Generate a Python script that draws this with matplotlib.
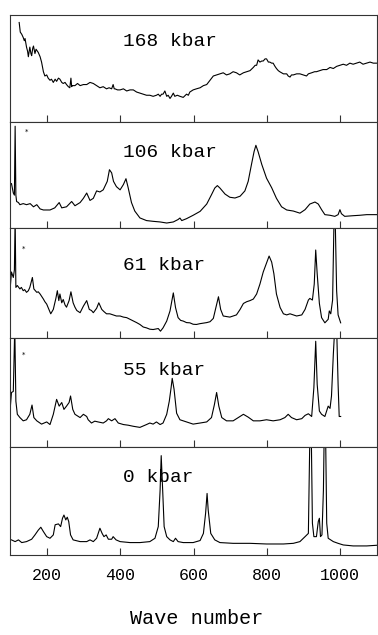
import numpy as np
import matplotlib
matplotlib.use("Agg")
import matplotlib.pyplot as plt

# Raman spectra, (wave number, relative intensity 0-100 per panel)
spec_168 = [(125, 93), (128, 84), (132, 82), (136, 79), (139, 76), (141, 78), (145, 70), (148, 66), (150, 61),
            (154, 70), (157, 64), (159, 62), (162, 69), (164, 71), (168, 64), (171, 68), (173, 67), (177, 65),
            (182, 61), (186, 56), (191, 47), (195, 43), (200, 44), (204, 41), (209, 39), (213, 40), (218, 37),
            (223, 40), (227, 38), (232, 41), (236, 40), (241, 37), (245, 36), (250, 37), (254, 35), (259, 33),
            (263, 32), (266, 41), (268, 33), (270, 34), (277, 34), (284, 36), (291, 34), (300, 35), (309, 35),
            (318, 37), (327, 36), (336, 34), (341, 33), (345, 32), (354, 33), (363, 31), (370, 32), (377, 31),
            (381, 35), (384, 31), (386, 31), (393, 30), (400, 30), (409, 31), (418, 29), (427, 30), (436, 30),
            (445, 28), (454, 27), (463, 26), (472, 25), (481, 25), (490, 24), (499, 25), (504, 26), (509, 24),
            (513, 26), (517, 26), (522, 29), (527, 24), (531, 25), (536, 22), (540, 24), (545, 27), (549, 24),
            (556, 25), (563, 24), (572, 23), (581, 26), (586, 25), (590, 28), (599, 30), (608, 31), (618, 32),
            (627, 34), (636, 35), (645, 39), (654, 43), (663, 44), (672, 45), (681, 46), (690, 44), (699, 45),
            (708, 47), (717, 46), (726, 44), (736, 46), (745, 47), (754, 48), (763, 51), (768, 53), (772, 53),
            (776, 58), (781, 56), (786, 57), (790, 57), (795, 59), (799, 59), (804, 56), (808, 56), (813, 55),
            (817, 55), (822, 52), (826, 50), (831, 48), (835, 47), (845, 45), (854, 45), (858, 43), (863, 42),
            (867, 44), (872, 44), (881, 45), (890, 45), (899, 44), (908, 43), (913, 45), (922, 46), (930, 47),
            (935, 47), (944, 48), (953, 49), (963, 49), (972, 51), (981, 50), (990, 52), (999, 53), (1008, 54),
            (1017, 53), (1026, 55), (1035, 54), (1044, 55), (1053, 56), (1062, 54), (1072, 55), (1081, 56),
            (1090, 55), (1099, 55)]

spec_106 = [(100, 41), (104, 42), (109, 33), (112, 31), (114, 96), (116, 31), (118, 25), (123, 24), (127, 22),
            (136, 23), (145, 22), (155, 23), (164, 20), (173, 22), (182, 18), (191, 17), (209, 17), (222, 19),
            (234, 24), (241, 19), (254, 20), (268, 25), (277, 21), (291, 24), (300, 28), (309, 33), (318, 26),
            (327, 28), (336, 35), (345, 34), (354, 36), (365, 44), (371, 55), (377, 52), (382, 44), (390, 39),
            (400, 36), (409, 41), (416, 46.5), (422, 38), (431, 24), (440, 16), (454, 9.5), (472, 7), (490, 6.3),
            (509, 5.7), (527, 4.7), (545, 5.7), (558, 8), (563, 9.4), (568, 7), (581, 8.8), (599, 12),
            (618, 15.7), (636, 22.6), (649, 31.4), (658, 37.7), (665, 40), (672, 37.7), (686, 32), (699, 29),
            (713, 28.3), (727, 30), (740, 35), (749, 44), (758, 60), (765, 72), (770, 78), (776, 72), (786, 60),
            (799, 47), (813, 38), (826, 28), (840, 20), (854, 17), (872, 16), (890, 14), (904, 17.3),
            (917, 22.6), (931, 24.5), (940, 22.6), (949, 17.3), (958, 12.6), (972, 12), (985, 11), (994, 12.6),
            (999, 17.3), (1003, 13.5), (1012, 11), (1035, 11.6), (1053, 12), (1072, 12.6), (1099, 12.6)]

spec_61 = [(100, 43), (104, 60), (109, 55), (112, 62), (114, 110), (116, 46), (120, 47.7), (127, 44.6),
           (131, 46), (136, 43), (140, 44), (145, 41.5), (150, 43), (154, 46), (161, 55), (165, 44.6),
           (169, 43), (173, 41.5), (177, 42), (182, 40), (186, 38), (191, 35.4), (195, 33), (200, 30.8),
           (206, 26), (211, 22), (218, 26), (225, 36), (229, 43), (233, 34), (236, 40), (241, 32), (245, 35),
           (250, 30), (254, 28), (261, 34), (266, 42), (272, 32), (277, 28), (282, 25), (291, 23), (300, 29),
           (309, 34), (316, 26), (322, 25), (327, 23), (336, 27), (342, 32), (350, 26), (356, 24), (363, 22),
           (372, 22), (381, 21), (390, 20), (400, 20), (409, 19), (418, 18.5), (427, 17), (436, 15.4),
           (445, 14), (454, 12.3), (463, 10), (472, 9.2), (481, 8), (490, 7.7), (504, 8.6), (510, 6.2),
           (517, 9.2), (527, 15.4), (536, 24.6), (545, 41), (551, 27.7), (558, 18.5), (565, 16), (572, 15.4),
           (581, 14), (590, 13.8), (599, 12.5), (608, 12.3), (617, 13), (626, 13.5), (636, 14), (645, 14.8),
           (654, 17.8), (661, 27.7), (668, 37.5), (674, 26), (681, 20), (690, 19.5), (699, 19), (708, 20),
           (717, 21), (727, 26), (736, 31.4), (745, 33), (754, 34), (763, 35.4), (772, 40), (781, 49),
           (790, 60), (799, 68), (806, 74.5), (813, 69), (819, 58.5), (826, 40), (836, 27.7), (845, 22),
           (854, 21), (863, 22), (872, 21), (881, 20), (895, 21), (904, 26), (913, 34.5), (917, 36),
           (924, 34.5), (929, 49), (933, 80), (937, 58.5), (943, 31.4), (949, 18.5), (958, 13.8), (967, 17),
           (970, 24.6), (974, 22), (979, 34.5), (983, 110), (986, 110), (990, 43), (994, 21), (1001, 13.8)]

spec_55 = [(100, 33), (104, 50), (109, 51), (113, 110), (116, 42), (120, 30), (127, 27), (136, 24), (145, 25),
           (154, 30), (160, 38.5), (165, 27), (173, 24), (186, 21), (200, 23), (209, 20.6), (218, 30),
           (227, 43.7), (234, 37.5), (241, 40.8), (247, 34.5), (254, 37.5), (261, 40.8), (265, 46.8),
           (271, 34.5), (277, 30), (291, 27), (300, 30), (309, 28), (313, 25), (322, 22), (331, 23.7), (340, 23),
           (354, 22), (363, 24), (368, 26), (377, 24), (386, 26), (395, 22), (409, 20.6), (422, 20), (436, 19),
           (454, 18), (472, 20.6), (481, 22), (490, 21), (499, 23), (509, 20.6), (517, 22), (527, 30),
           (534, 42), (539, 54.5), (542, 63), (547, 53), (554, 31), (563, 25), (581, 23), (599, 21), (618, 22),
           (636, 23), (649, 27), (657, 39), (663, 50), (669, 37.5), (677, 27), (690, 24), (708, 24), (722, 27),
           (736, 30), (749, 27.4), (763, 24), (781, 24), (799, 25), (817, 24), (836, 25), (849, 27), (858, 30),
           (867, 27), (881, 25), (895, 26), (904, 29), (913, 30.5), (922, 28), (928, 54.5), (933, 97),
           (937, 57.5), (943, 33), (949, 30), (958, 28), (967, 37.5), (972, 35.4), (976, 46.8), (981, 85),
           (985, 110), (990, 110), (994, 57.5), (997, 28), (1001, 28)]

spec_0 = [(104, 14), (114, 12.4), (123, 14), (132, 11.5), (145, 12.4), (159, 14.6), (168, 18.6), (177, 23),
          (184, 25.7), (191, 21.7), (200, 17), (209, 15.5), (218, 18.6), (223, 28), (232, 28.8), (238, 26.3),
          (243, 34), (247, 37), (252, 32.5), (256, 35), (260, 31), (265, 18.6), (272, 14), (291, 12.4),
          (309, 12.4), (318, 14), (327, 12.4), (336, 15.5), (345, 24.8), (351, 20), (356, 17), (362, 18.6),
          (368, 14.6), (377, 14.6), (381, 17), (389, 14), (400, 12.4), (427, 11.5), (454, 11.5), (481, 12.4),
          (495, 15.5), (504, 26.3), (509, 60), (512, 92), (516, 60), (520, 26.3), (527, 17), (536, 14),
          (545, 12.4), (551, 15.5), (558, 12.4), (572, 11.5), (599, 11.5), (618, 13.4), (627, 20), (633, 38.7),
          (637, 57), (640, 41.8), (647, 20), (658, 14), (672, 11.5), (708, 10.8), (754, 10.8), (799, 10.2),
          (845, 10.2), (872, 10.8), (890, 12.4), (904, 17), (913, 20), (917, 110), (921, 110), (924, 29.4),
          (928, 17), (935, 17), (940, 31), (943, 34), (946, 17), (950, 18.6), (954, 60), (956, 110), (960, 110),
          (963, 29.4), (967, 15.5), (981, 12.4), (994, 10.8), (1008, 9.3), (1035, 8.4), (1072, 8.4), (1099, 9)]

pressures = ["168 kbar", "106 kbar", "61 kbar", "55 kbar", "0 kbar"]
spectra = [spec_168, spec_106, spec_61, spec_55, spec_0]
label_y = [0.75, 0.71, 0.66, 0.70, 0.72]
star_pos = [None, (144, 91), (136, 81), (138, 85), None]
ticks = [200, 400, 600, 800, 1000]

# panel edges in pixels (top, bottom) of the 378x635 picture
edges = [(15, 122), (122, 228), (228, 338), (338, 447), (447, 555)]

mono = "Liberation Mono"
fig = plt.figure(figsize=(3.78, 6.35), dpi=100)
W, H = 378.0, 635.0

for i, (top, bot) in enumerate(edges):
  ax = fig.add_axes([10 / W, 1 - bot / H, 367 / W, (bot - top) / H])
  data = np.array(spectra[i], dtype=float)
  ax.plot(data[:, 0], data[:, 1], color="black", lw=0.8)
  if star_pos[i] is not None:
    ax.text(star_pos[i][0], star_pos[i][1], "*", fontsize=5, ha="center", va="center")
  ax.text(408, label_y[i], pressures[i], transform=ax.get_xaxis_transform(),
          fontsize=14, family=mono, ha="left", va="center")
  ax.set_xlim(100, 1100)
  ax.set_ylim(0, 100)
  ax.set_yticks([])
  ax.set_xticks(ticks)
  ax.tick_params(axis="x", direction="in", length=5, width=0.8, color="#333333",
                 labelbottom=(i == len(edges) - 1), labelsize=12, pad=9)
  for sp in ax.spines.values():
    sp.set_linewidth(0.8)
    sp.set_color("#333333")
  for lab in ax.get_xticklabels():
    lab.set_family(mono)

fig.text(197 / W, 1 - 618 / H, "Wave number", fontsize=14.5, family=mono, ha="center", va="center")

fig.savefig("out.png", dpi=100)
